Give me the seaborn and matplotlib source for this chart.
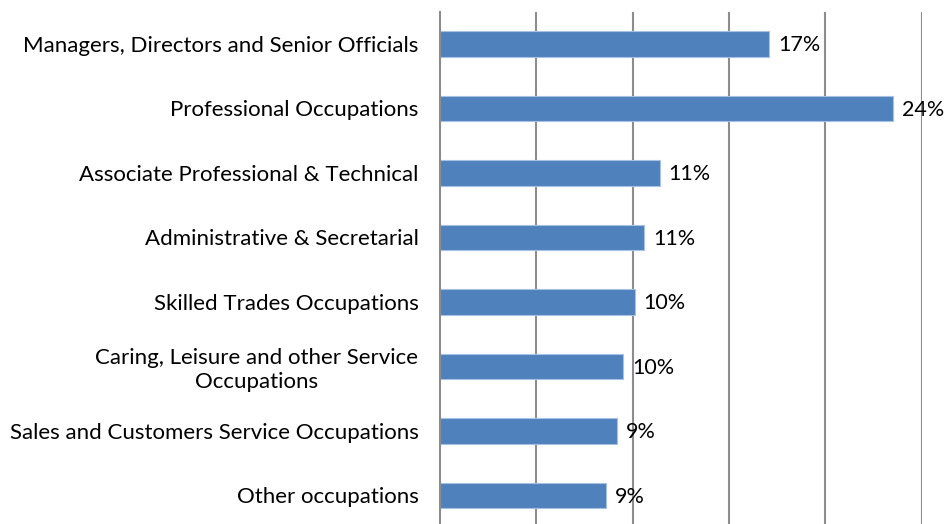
import seaborn as sns
import matplotlib.pyplot as plt
import pandas as pd

# occupation shares (percent)
occupations = [
    "Managers, Directors and Senior Officials",
    "Professional Occupations",
    "Associate Professional & Technical",
    "Administrative & Secretarial",
    "Skilled Trades Occupations",
    "Caring, Leisure and other Service\nOccupations",
    "Sales and Customers Service Occupations",
    "Other occupations",
]
shares = [17.1, 23.5, 11.4, 10.6, 10.1, 9.5, 9.2, 8.6]
share_labels = ["17%", "24%", "11%", "11%", "10%", "10%", "9%", "9%"]

df = pd.DataFrame({"occupation": occupations, "share": shares})

sns.set_style("white")
plt.rcParams["font.family"] = ["Lato", "DejaVu Sans"]

fig = plt.figure(figsize=(9.44, 5.24), dpi=100)
ax = fig.add_axes([440 / 944, 1 - 527.75 / 524, (921.7 - 440) / 944, (527.75 - 11.75) / 524])

sns.barplot(data=df, x="share", y="occupation", orient="h", color="#4F81BD",
            saturation=1, width=0.4, edgecolor="#A7C1E2", linewidth=0.8, ax=ax)

ax.set_xlim(0, 25)
ax.set_ylim(len(occupations) - 0.5, -0.5)
ax.set_xticks([5, 10, 15, 20, 25])
ax.set_xticklabels([])
ax.tick_params(axis="x", length=0)
ax.grid(axis="x", color="#8c8c8c", linewidth=1.5)
ax.set_axisbelow(True)

# ticks at the category boundaries, labels centred on the bars
ax.set_yticks([i - 0.5 for i in range(len(occupations) + 1)], minor=True)
ax.tick_params(axis="y", which="minor", length=5, width=1.3, color="#8c8c8c", direction="out")
ax.tick_params(axis="y", which="major", length=0, pad=15.5, labelsize=16, labelcolor="black")
for lbl in ax.get_yticklabels():
    lbl.set_multialignment("center")

for s in ["top", "right", "bottom"]:
    ax.spines[s].set_visible(False)
ax.spines["left"].set_color("#8c8c8c")
ax.spines["left"].set_linewidth(1.5)

for i, (v, t) in enumerate(zip(shares, share_labels)):
    ax.annotate(t, (v, i), xytext=(6.5, -1), textcoords="offset points",
                va="center", ha="left", fontsize=15.5, color="black")

ax.set_xlabel("")
ax.set_ylabel("")
fig.savefig("out.png", dpi=100)
